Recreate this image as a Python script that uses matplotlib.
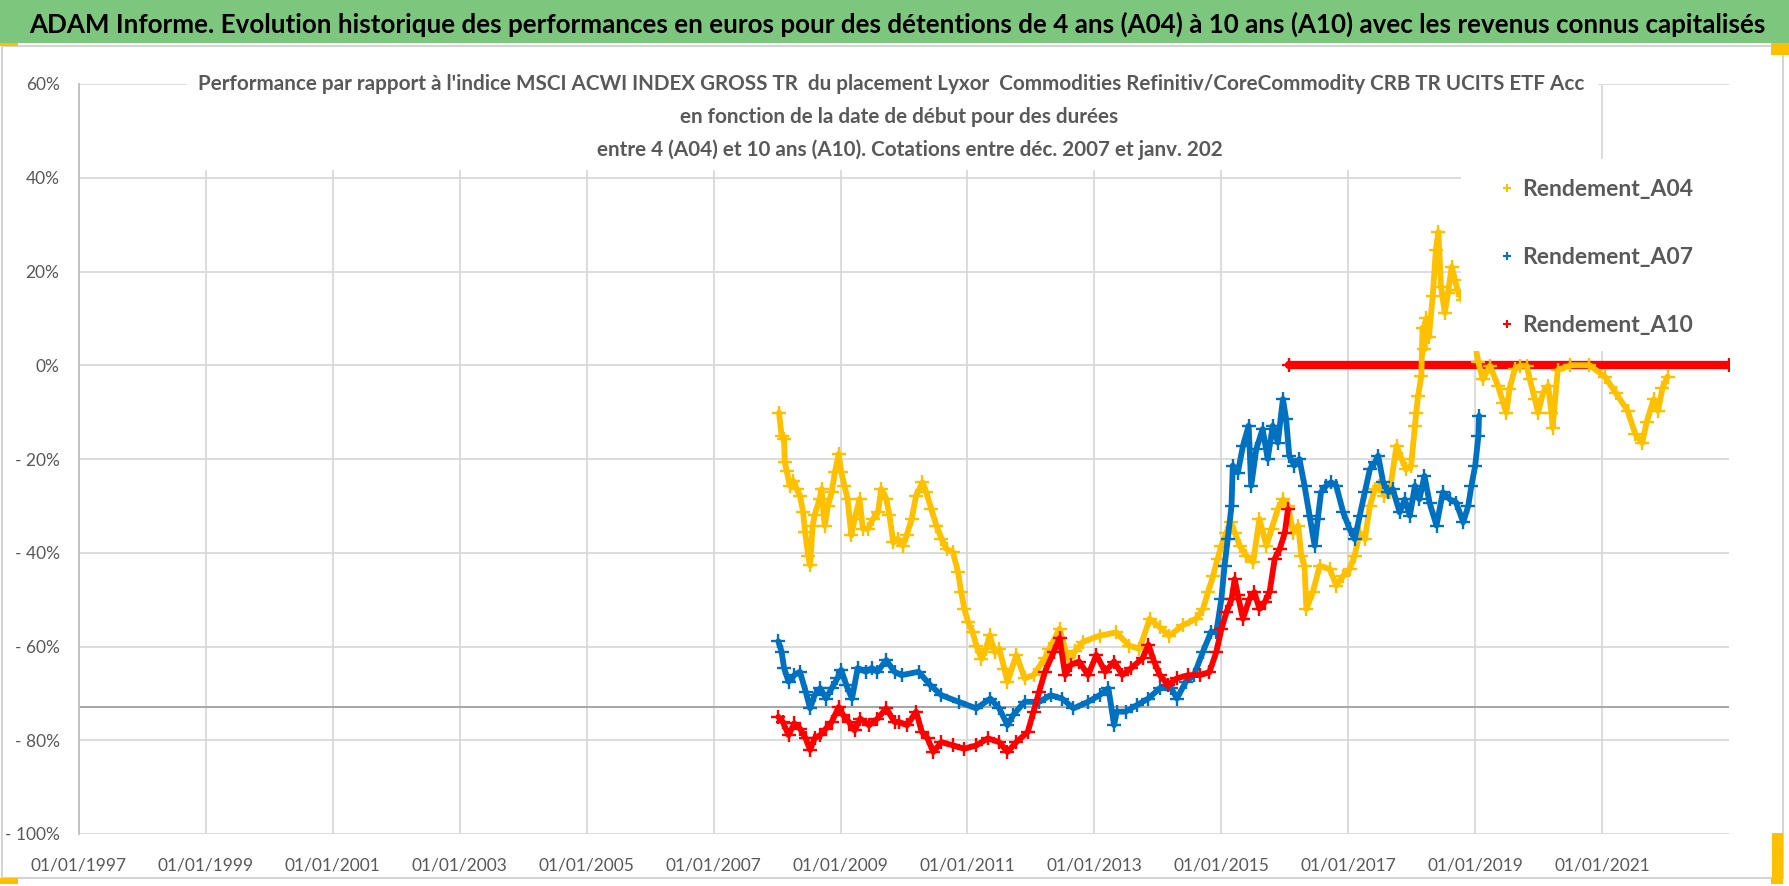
import matplotlib
matplotlib.use("Agg")
import matplotlib.pyplot as plt
from matplotlib.patches import Rectangle
from matplotlib.lines import Line2D
import pandas as pd

plt.rcParams['font.family'] = ['Liberation Sans Narrow', 'Lato', 'DejaVu Sans']

TITLE = ("ADAM Informe. Evolution historique des performances en euros pour des détentions "
         "de 4 ans (A04) à 10 ans (A10) avec les revenus connus capitalisés")
SUBTITLE = [
    "Performance par rapport à l'indice MSCI ACWI INDEX GROSS TR  du placement Lyxor  "
    "Commodities Refinitiv/CoreCommodity CRB TR UCITS ETF Acc",
    "en fonction de la date de début pour des durées",
    "entre 4 (A04) et 10 ans (A10). Cotations entre déc. 2007 et janv. 202",
]

# start dates as decimal years, performance in %
a04_years = [2008.03, 2008.07, 2008.11, 2008.12, 2008.15, 2008.20, 2008.25, 2008.31, 2008.36, 2008.41,
             2008.44, 2008.49, 2008.52, 2008.56, 2008.59, 2008.67, 2008.70, 2008.75, 2008.80, 2008.86,
             2008.91, 2008.97, 2009.01, 2009.06, 2009.11, 2009.17, 2009.22, 2009.30, 2009.35, 2009.43,
             2009.51, 2009.59, 2009.64, 2009.72, 2009.77, 2009.83, 2009.90, 2009.98, 2010.04, 2010.12,
             2010.19, 2010.29, 2010.35, 2010.43, 2010.51, 2010.59, 2010.67, 2010.77, 2010.85, 2010.90,
             2010.95, 2011.01, 2011.08, 2011.14, 2011.22, 2011.29, 2011.35, 2011.43, 2011.50, 2011.58,
             2011.63, 2011.77, 2011.90, 2012.04, 2012.22, 2012.29, 2012.45, 2012.58, 2012.70, 2012.82,
             2013.08, 2013.34, 2013.55, 2013.71, 2013.87, 2014.03, 2014.18, 2014.39, 2014.60, 2014.71,
             2014.79, 2014.87, 2014.94, 2015.00, 2015.08, 2015.15, 2015.21, 2015.29, 2015.39, 2015.50,
             2015.60, 2015.71, 2015.79, 2015.89, 2015.97, 2016.05, 2016.13, 2016.21, 2016.26, 2016.31,
             2016.34, 2016.44, 2016.55, 2016.71, 2016.81, 2016.92, 2017.02, 2017.10, 2017.18, 2017.26,
             2017.34, 2017.42, 2017.49, 2017.57, 2017.65, 2017.76, 2017.84, 2017.91, 2017.99, 2018.05,
             2018.07, 2018.10, 2018.15, 2018.17, 2018.20, 2018.23, 2018.27, 2018.33, 2018.38, 2018.42,
             2018.46, 2018.52, 2018.57, 2018.63, 2018.68, 2018.72, 2018.80, 2018.95, 2019.05, 2019.12,
             2019.23, 2019.36, 2019.44, 2019.49, 2019.54, 2019.62, 2019.70, 2019.81, 2019.86, 2019.94,
             2019.99, 2020.07, 2020.15, 2020.20, 2020.22, 2020.30, 2020.50, 2020.80, 2021.04, 2021.22,
             2021.40, 2021.52, 2021.63, 2021.70, 2021.81, 2021.88, 2021.95, 2022.03]
a04_vals = [-10.1, -15.0, -15.7, -20.7, -22.5, -25.7, -24.6, -26.4, -27.8, -31.4,
            -35.6, -40.6, -42.7, -34.2, -32.0, -28.5, -26.4, -34.2, -30.0, -27.1,
            -22.8, -18.9, -22.8, -25.7, -28.5, -36.3, -32.8, -28.5, -34.9, -34.9,
            -32.8, -31.4, -26.4, -28.5, -32.0, -37.8, -37.0, -38.5, -36.3, -32.8,
            -27.8, -25.0, -27.1, -30.7, -34.2, -37.0, -39.2, -39.9, -44.1, -48.4,
            -52.0, -54.8, -56.9, -59.8, -62.6, -60.5, -57.6, -61.2, -60.5, -64.7,
            -67.5, -61.8, -66.8, -66.1, -62.5, -60.5, -56.2, -62.5, -61.0, -59.0,
            -57.7, -57.0, -59.8, -60.5, -54.1, -55.9, -57.7, -55.5, -54.1, -52.0,
            -48.4, -44.9, -41.3, -38.5, -35.7, -33.5, -35.7, -38.5, -40.6, -42.0,
            -32.8, -38.5, -34.9, -30.7, -28.6, -30.0, -35.7, -34.2, -40.6, -42.8,
            -52.0, -48.4, -42.8, -43.5, -47.0, -44.9, -43.5, -40.6, -35.7, -37.1,
            -30.0, -26.4, -25.7, -27.8, -27.1, -17.2, -20.0, -22.2, -21.4, -12.9,
            -10.1, -6.5, -2.3, 8.0, 3.4, 10.0, 6.0, 14.7, 24.6, 28.4,
            16.8, 11.2, 15.4, 21.0, 18.2, 16.1, 14.0, 8.0, 0.6, -3.0,
            -0.1, -4.4, -8.0, -10.1, -5.1, -0.9, -0.1, -0.1, -3.0, -7.2,
            -10.1, -5.8, -4.4, -10.1, -13.3, -1.0, 0.0, 0.0, -2.4, -6.0,
            -9.7, -14.6, -16.6, -12.2, -7.3, -9.7, -4.9, -2.4]

a07_years = [2008.02, 2008.07, 2008.11, 2008.18, 2008.27, 2008.36, 2008.45, 2008.52, 2008.59, 2008.68,
             2008.77, 2008.86, 2008.95, 2009.01, 2009.09, 2009.18, 2009.27, 2009.40, 2009.49, 2009.58,
             2009.72, 2009.85, 2009.96, 2010.23, 2010.41, 2010.59, 2010.86, 2011.14, 2011.36, 2011.50,
             2011.63, 2011.72, 2011.90, 2012.13, 2012.31, 2012.49, 2012.67, 2012.90, 2013.08, 2013.22,
             2013.31, 2013.35, 2013.49, 2013.67, 2013.85, 2014.03, 2014.21, 2014.30, 2014.44, 2014.57,
             2014.71, 2014.84, 2014.92, 2015.00, 2015.05, 2015.10, 2015.16, 2015.18, 2015.26, 2015.34,
             2015.43, 2015.47, 2015.55, 2015.65, 2015.73, 2015.81, 2015.89, 2015.97, 2016.02, 2016.07,
             2016.15, 2016.23, 2016.31, 2016.39, 2016.47, 2016.52, 2016.57, 2016.65, 2016.73, 2016.81,
             2016.92, 2017.02, 2017.10, 2017.18, 2017.26, 2017.34, 2017.42, 2017.47, 2017.55, 2017.63,
             2017.70, 2017.81, 2017.89, 2017.97, 2018.05, 2018.12, 2018.20, 2018.28, 2018.39, 2018.49,
             2018.60, 2018.70, 2018.81, 2018.89, 2018.94, 2019.00, 2019.05, 2019.06]
a07_vals = [-58.9, -61.1, -64.6, -67.5, -66.1, -65.4, -69.6, -73.2, -70.4, -68.9,
            -71.1, -68.9, -66.8, -65.0, -68.2, -71.1, -64.6, -65.4, -64.6, -65.4,
            -62.9, -65.4, -66.1, -65.4, -68.2, -70.4, -71.8, -73.2, -71.1, -73.2,
            -76.8, -74.6, -71.8, -71.8, -70.4, -71.1, -73.2, -71.8, -70.4, -68.9,
            -76.8, -73.9, -73.9, -72.5, -71.1, -68.9, -68.9, -71.1, -67.5, -66.1,
            -61.1, -56.8, -57.0, -49.9, -42.8, -37.1, -30.0, -21.4, -22.9, -17.2,
            -12.9, -25.7, -17.9, -13.6, -20.0, -12.9, -16.5, -7.2, -11.5, -19.3,
            -21.4, -20.0, -25.7, -32.1, -38.5, -32.8, -27.1, -25.7, -25.0, -25.7,
            -31.4, -34.9, -37.1, -32.1, -27.1, -22.2, -20.7, -19.3, -25.0, -27.1,
            -26.4, -31.4, -28.6, -32.1, -25.7, -28.6, -23.6, -29.3, -34.2, -27.1,
            -28.6, -29.3, -33.5, -30.0, -25.7, -21.4, -15.1, -10.8]

a10_years = [2008.02, 2008.09, 2008.18, 2008.27, 2008.36, 2008.45, 2008.52, 2008.59, 2008.68, 2008.77,
             2008.86, 2008.97, 2009.04, 2009.13, 2009.22, 2009.31, 2009.45, 2009.58, 2009.72, 2009.85,
             2009.92, 2010.05, 2010.19, 2010.28, 2010.37, 2010.46, 2010.59, 2010.77, 2010.95, 2011.14,
             2011.32, 2011.50, 2011.63, 2011.77, 2011.95, 2012.04, 2012.13, 2012.22, 2012.36, 2012.45,
             2012.54, 2012.63, 2012.76, 2012.90, 2013.03, 2013.17, 2013.31, 2013.44, 2013.58, 2013.76,
             2013.85, 2013.94, 2014.03, 2014.16, 2014.30, 2014.48, 2014.66, 2014.81, 2014.92, 2015.00,
             2015.08, 2015.16, 2015.21, 2015.26, 2015.34, 2015.44, 2015.52, 2015.60, 2015.68, 2015.76,
             2015.84, 2015.92, 2016.00, 2016.05]
a10_vals = [-75.0, -76.1, -78.9, -76.4, -77.5, -79.6, -82.1, -79.6, -78.9, -77.5,
            -76.1, -72.9, -74.6, -76.1, -77.9, -75.4, -76.8, -75.4, -73.2, -76.1,
            -76.1, -76.8, -73.9, -78.2, -79.6, -82.5, -80.4, -81.1, -81.8, -81.1,
            -79.6, -80.4, -82.5, -80.4, -78.2, -73.9, -69.6, -65.4, -61.1, -58.2,
            -66.1, -63.9, -63.2, -66.1, -61.8, -65.4, -63.2, -66.1, -64.6, -62.5,
            -59.6, -63.2, -66.1, -68.2, -66.8, -66.1, -66.1, -65.5, -61.2, -56.3,
            -52.7, -49.9, -45.6, -49.1, -54.1, -49.9, -48.4, -52.0, -50.6, -48.4,
            -41.3, -39.2, -35.7, -30.7]
# window not yet complete: value shown as 0
a10_zero_years = [2016.07, 2023.0]
a10_zero_vals = [0.0, 0.0]

y_ticks = [60, 40, 20, 0, -20, -40, -60, -80, -100]
x_tick_years = [1997, 1999, 2001, 2003, 2005, 2007, 2009, 2011, 2013, 2015, 2017, 2019, 2021]

YELLOW = "#FFC000"
BLUE = "#0070C0"
RED = "#FF0000"
GREY_TXT = "#595959"


def to_dates(years):
    return [pd.Timestamp("1997-01-01") + pd.Timedelta(days=(y - 1997) * 365.25) for y in years]


def fit_width(text, width_px, renderer):
    # shrink/grow the font so the text spans the same width as in the reference
    w = text.get_window_extent(renderer).width
    text.set_fontsize(text.get_fontsize() * width_px / w)


W, H = 1790, 886
fig = plt.figure(figsize=(W / 100, H / 100), dpi=100)
renderer = fig.canvas.get_renderer()

# chart frame and green header band
fig.patches.append(Rectangle((2 / W, 1 - 878 / H), 1781 / W, 832 / H, transform=fig.transFigure,
                             facecolor="white", edgecolor="#D4D4D4", lw=1.5, zorder=-1))
fig.patches.append(Rectangle((0, 1 - 43 / H), 1, 43 / H, transform=fig.transFigure,
                             facecolor="#7DC67D", edgecolor="none", zorder=1))
for (x0, y0, w, h) in [(0, 43, 18, 3), (1771, 43, 19, 12), (1772, 833, 11, 51), (1771, 878, 12, 6), (0, 878, 18, 6)]:
    fig.patches.append(Rectangle((x0 / W, 1 - (y0 + h) / H), w / W, h / H, transform=fig.transFigure,
                                 facecolor=YELLOW, edgecolor="none", zorder=2))
title = fig.text(29 / W, 1 - 33 / H, TITLE, ha="left", va="baseline", fontsize=20, weight="bold", color="black")
fit_width(title, 1735, renderer)

ax = fig.add_axes([79 / W, 1 - 834 / H, 1650 / W, 750 / H])
ax.set_xlim(pd.Timestamp("1997-01-01"), pd.Timestamp("2023-01-01"))
ax.set_ylim(-100, 60)
ax.set_axisbelow(True)
ax.grid(True, color="#D9D9D9", lw=1.3)
for s in ["top", "right", "bottom"]:
    ax.spines[s].set_visible(False)
ax.spines["left"].set_color("#BFBFBF")
ax.spines["left"].set_linewidth(1.3)
ax.axhline(-73, color="#A6A6A6", lw=1.4, zorder=1)

ax.set_yticks(y_ticks)
ax.set_yticklabels([f"{v}%" if v >= 0 else f"- {abs(v)}%" for v in y_ticks])
ax.set_xticks([pd.Timestamp(f"{y}-01-01") for y in x_tick_years])
ax.set_xticklabels([f"01/01/{y}" for y in x_tick_years])
ax.tick_params(axis="both", length=0, labelsize=12.5, labelcolor=GREY_TXT)
ax.tick_params(axis="y", pad=14)
ax.tick_params(axis="x", pad=17)

style = dict(marker="+", ms=10, mew=1.7, lw=4.2, solid_joinstyle="round", solid_capstyle="round")
ax.plot(to_dates(a10_zero_years), a10_zero_vals, color=RED, zorder=2, **style)
ax.plot(to_dates(a04_years), a04_vals, color=YELLOW, zorder=3, **style)
ax.plot(to_dates(a07_years), a07_vals, color=BLUE, zorder=4, **style)
ax.plot(to_dates(a10_years), a10_vals, color=RED, zorder=5, **style)
ax.lines[1].set_linewidth(6)

# white boxes behind the chart title and the legend
d0, d1 = to_dates([1998.70, 2020.94])
ax.add_patch(Rectangle((d0, 41.7), d1 - d0, 22.5, facecolor="white", edgecolor="none",
                       zorder=6, clip_on=False))
l0, l1 = to_dates([2018.78, 2023.0])
ax.add_patch(Rectangle((l0, 3.0), l1 - l0, 41.0, facecolor="white", edgecolor="none", zorder=6))

sub = []
for txt, cx, cy in zip(SUBTITLE, [891, 899, 910], [84, 117, 150]):
    sub.append(fig.text(cx / W, 1 - cy / H, txt, ha="center", va="center", fontsize=16, weight="bold",
                        color=GREY_TXT, zorder=10))
fit_width(sub[0], 1391, renderer)
for t in sub[1:]:
    t.set_fontsize(sub[0].get_fontsize())

handles = [Line2D([], [], color=c, marker="+", ls="none", ms=6, mew=1.5) for c in (YELLOW, BLUE, RED)]
leg = ax.legend(handles, ["Rendement_A04", "Rendement_A07", "Rendement_A10"],
                loc="upper left", bbox_to_anchor=(1489 / W, 1 - 168 / H), bbox_transform=fig.transFigure,
                frameon=False, borderpad=0, labelspacing=2.05, handlelength=0.6,
                handletextpad=0.35, labelcolor=GREY_TXT, prop={"weight": "bold", "size": 16.5})
leg.set_zorder(11)

fig.savefig("out.png", dpi=100)
